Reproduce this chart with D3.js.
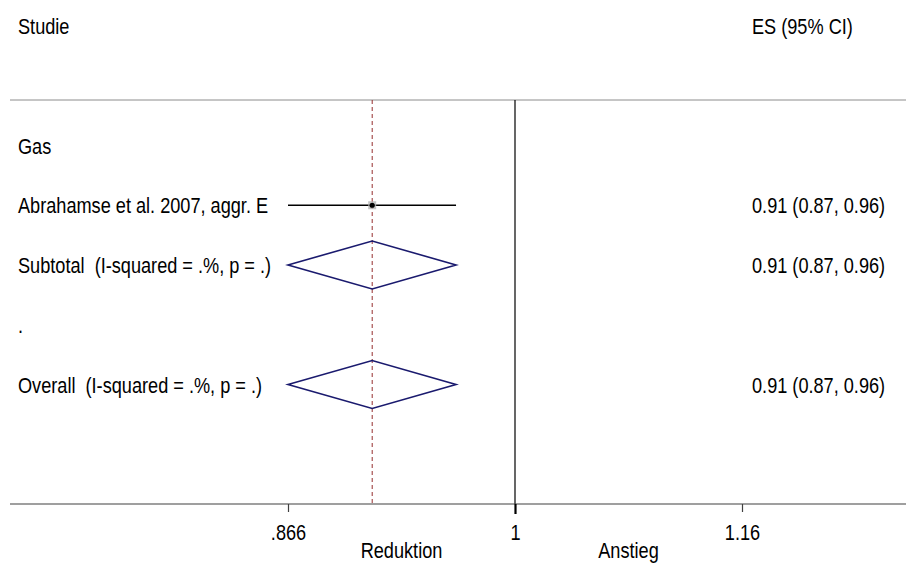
<!DOCTYPE html>
<html>
<head>
<meta charset="utf-8">
<script src="https://cdn.jsdelivr.net/npm/d3@7"></script>
<style>
  html, body { margin: 0; padding: 0; background: #fff; }
  svg text { font-family: "Liberation Sans", Arial, sans-serif; white-space: pre; fill: #000; font-size: 22px; }
</style>
</head>
<body>
<svg id="chart" width="906" height="563"></svg>
<script>
// Forest plot rows (top to bottom, after the header)
const rowLabels = ["Gas", "Abrahamse et al. 2007, aggr. E", "Subtotal  (I-squared = .%, p = .)", ".", "Overall  (I-squared = .%, p = .)"];
const rowTypes  = ["group", "study", "subtotal", "blank", "overall"];
const rowIndex  = [2, 3, 4, 5, 6];
const effect    = [null, 0.9132, 0.9132, null, 0.9132];
const lowerCI   = [null, 0.8656, 0.8656, null, 0.8656];
const upperCI   = [null, 0.9632, 0.9632, null, 0.9632];
const esLabels  = ["", "0.91 (0.87, 0.96)", "0.91 (0.87, 0.96)", "", "0.91 (0.87, 0.96)"];

// Axis ticks: lower limit, null value and its reciprocal
const tickValues = [0.8656, 1, 1 / 0.8656];
const tickLabels = [".866", "1", "1.16"];
const sideLabels = ["Reduktion", "Anstieg"];
const headerLeft = "Studie";
const headerRight = "ES (95% CI)";
const overallES = 0.9132;

const svg = d3.select("#chart");
const x = d3.scaleLog().domain([tickValues[0], tickValues[2]]).range([288, 742]);
const y = d3.scaleLinear().domain([0, 8]).range([26, 504]);
const plotLeft = 10, plotRight = 906;
const textLeft = 18, esLeft = 752;
const base = 8;
const squeeze = 0.825; // condensed lettering

// place a condensed text label with its anchor at (px, py)
function label(sel, px, py, anchor) {
  return sel.attr("transform", `translate(${px},${py}) scale(${squeeze},1)`)
    .attr("text-anchor", anchor || "start");
}

// headers
label(svg.append("text"), textLeft, y(0) + base).text(headerLeft);
label(svg.append("text"), esLeft, y(0) + base).text(headerRight);

// top rule
svg.append("line").attr("x1", plotLeft).attr("x2", plotRight)
  .attr("y1", 100).attr("y2", 100).attr("stroke", "#8c8c8c").attr("stroke-width", 1);

// null line at 1
svg.append("line").attr("x1", x(1)).attr("x2", x(1)).attr("y1", 100).attr("y2", y(8))
  .attr("stroke", "#000").attr("stroke-width", 1.2);

// overall effect dashed line
svg.append("line").attr("x1", x(overallES)).attr("x2", x(overallES)).attr("y1", 100).attr("y2", y(8))
  .attr("stroke", "#962d2d").attr("stroke-width", 1).attr("stroke-dasharray", "4,3");

// row labels
const rows = rowLabels.map((d, i) => ({ label: d, type: rowTypes[i], r: rowIndex[i], es: effect[i], lo: lowerCI[i], hi: upperCI[i], txt: esLabels[i] }));
svg.selectAll("text.row").data(rows).join("text").attr("class", "row")
  .each(function(d) { label(d3.select(this), textLeft, y(d.r) + base); })
  .text(d => d.label);
svg.selectAll("text.es").data(rows.filter(d => d.txt)).join("text").attr("class", "es")
  .each(function(d) { label(d3.select(this), esLeft, y(d.r) + base); })
  .text(d => d.txt);

// study CI and weight box
const studies = rows.filter(d => d.type === "study");
svg.selectAll("line.ci").data(studies).join("line").attr("class", "ci")
  .attr("x1", d => x(d.lo)).attr("x2", d => x(d.hi)).attr("y1", d => y(d.r)).attr("y2", d => y(d.r))
  .attr("stroke", "#000").attr("stroke-width", 1.5);
svg.selectAll("rect.box").data(studies).join("rect").attr("class", "box")
  .attr("x", d => x(d.es) - 4).attr("y", d => y(d.r) - 4).attr("width", 8).attr("height", 8)
  .attr("fill", "#b4b4b4").attr("opacity", 0.8);
svg.selectAll("circle.pt").data(studies).join("circle").attr("class", "pt")
  .attr("cx", d => x(d.es)).attr("cy", d => y(d.r)).attr("r", 2.6).attr("fill", "#000");

// pooled diamonds
const pooled = rows.filter(d => d.type === "subtotal" || d.type === "overall");
const hh = 24;
svg.selectAll("path.dia").data(pooled).join("path").attr("class", "dia")
  .attr("d", d => `M${x(d.lo)},${y(d.r)}L${x(d.es)},${y(d.r) - hh}L${x(d.hi)},${y(d.r)}L${x(d.es)},${y(d.r) + hh}Z`)
  .attr("fill", "none").attr("stroke", "#1a1a6e").attr("stroke-width", 1.6);

// x axis
const axisY = y(8);
svg.append("line").attr("x1", plotLeft).attr("x2", plotRight).attr("y1", axisY).attr("y2", axisY)
  .attr("stroke", "#404040").attr("stroke-width", 1.2);
const axis = d3.axisBottom(x).tickValues(tickValues).tickFormat((d, i) => tickLabels[i]).tickSize(8);
const g = svg.append("g").attr("transform", `translate(0,${axisY})`).call(axis);
g.select(".domain").remove();
g.selectAll(".tick line").attr("stroke", "#404040").attr("stroke-width", 1.2);
g.selectAll(".tick").filter(d => d === 1).select("line").attr("stroke", "#000").attr("stroke-width", 2.2).attr("y2", 10);
g.selectAll(".tick text")
  .attr("dy", null).attr("y", null)
  .attr("transform", `translate(0,36) scale(${squeeze},1)`)
  .attr("font-size", 22).attr("font-family", "Liberation Sans, Arial, sans-serif").attr("fill", "#000");

// direction labels
const sideX = [x(Math.sqrt(tickValues[0])), x(Math.sqrt(tickValues[2]))];
svg.selectAll("text.side").data(sideLabels).join("text").attr("class", "side")
  .each(function(d, i) { label(d3.select(this), sideX[i], 558, "middle"); })
  .text(d => d);
</script>
</body>
</html>
